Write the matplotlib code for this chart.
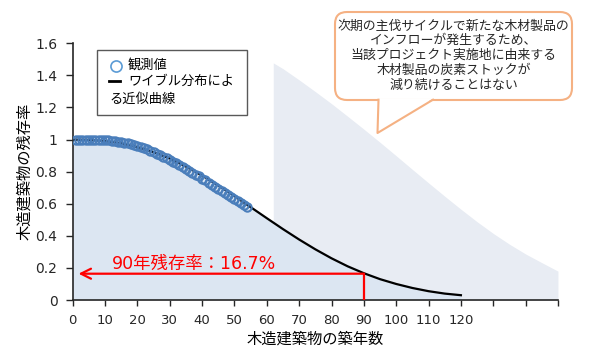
import numpy as np
import matplotlib.pyplot as plt
from matplotlib.patches import FancyBboxPatch, Polygon, Rectangle

plt.rcParams['font.family'] = ['DejaVu Sans', 'Noto Sans CJK JP']

# observed survival rate, building age 1-54 years
obs_year = list(range(1, 55))
obs_rate = [1.000, 1.000, 1.000, 1.000, 1.000, 0.999, 0.999, 0.998, 0.997, 0.996,
            0.995, 0.993, 0.991, 0.988, 0.985, 0.981, 0.977, 0.972, 0.967, 0.961,
            0.954, 0.947, 0.939, 0.931, 0.922, 0.913, 0.904, 0.894, 0.884, 0.874,
            0.863, 0.852, 0.841, 0.830, 0.818, 0.806, 0.794, 0.782, 0.770, 0.757,
            0.745, 0.732, 0.719, 0.706, 0.693, 0.680, 0.667, 0.654, 0.641, 0.628,
            0.615, 0.602, 0.590, 0.578]

# weibull approximation curve (read every 5 years)
fit_year = [0, 5, 10, 15, 20, 25, 30, 35, 40, 45, 50, 55, 60,
            65, 70, 75, 80, 85, 90, 95, 100, 105, 110, 115, 120]
fit_rate = [1.000, 0.998, 0.991, 0.977, 0.953, 0.922, 0.882, 0.832, 0.776, 0.714,
            0.648, 0.579, 0.510, 0.442, 0.377, 0.316, 0.260, 0.210, 0.167, 0.130,
            0.100, 0.075, 0.055, 0.040, 0.030]

# stock incl. next harvest cycle
next_year = [62, 65, 70, 75, 80, 85, 90, 95, 100, 105, 110,
             115, 120, 125, 130, 135, 140, 145, 150]
next_rate = [1.478, 1.442, 1.372, 1.299, 1.224, 1.145, 1.065, 0.983, 0.899, 0.814,
             0.730, 0.647, 0.566, 0.488, 0.415, 0.348, 0.287, 0.233, 0.180]

year90 = 90
rate90 = 0.164

xticks = list(range(0, 151, 10))
xticklabels = [str(v) if v <= 120 else '' for v in xticks]
yticks = [0, 0.2, 0.4, 0.6, 0.8, 1.0, 1.2, 1.4, 1.6]
yticklabels = ['0', '0.2', '0.4', '0.6', '0.8', '1', '1.2', '1.4', '1.6']

bubble_text = ('次期の主伐サイクルで新たな木材製品の\n'
               'インフローが発生するため、\n'
               '当該プロジェクト実施地に由来する\n'
               '木材製品の炭素ストックが\n'
               '減り続けることはない')

fig = plt.figure(figsize=(5.9, 3.53), dpi=100)
ax = fig.add_axes([0.1232, 0.1501, 0.8225, 0.7272])

ax.fill_between(next_year, 0, next_rate, color='#e8ecf3', lw=0, zorder=1)
ax.fill_between(fit_year, 0, fit_rate, color='#dce6f2', lw=0, zorder=2)
ax.plot(fit_year, fit_rate, color='black', lw=1.6, zorder=3)
ax.plot(obs_year, obs_rate, 'o', ms=6, mfc='none', mec='#4a7ebb', mew=1.5, zorder=4)

# 90 year marker
ax.plot([year90, year90], [0, rate90], color='red', lw=1.6, zorder=5)
ax.annotate('', xy=(1.8, rate90), xytext=(year90, rate90),
            arrowprops=dict(arrowstyle='->', color='red', lw=1.6,
                            mutation_scale=18, shrinkA=0, shrinkB=0), zorder=5)
ax.text(37.5, 0.225, '90年残存率：16.7%', color='red', fontsize=12.5,
        ha='center', va='center')

ax.set_xlim(0, 150)
ax.set_ylim(0, 1.6)
for s in ['top', 'right']:
    ax.spines[s].set_visible(False)
for s in ['left', 'bottom']:
    ax.spines[s].set_color('#262626')
    ax.spines[s].set_linewidth(1.2)
ax.set_xticks(xticks)
ax.set_xticklabels(xticklabels, fontsize=9.5)
ax.set_yticks(yticks)
ax.set_yticklabels(yticklabels, fontsize=10)
ax.tick_params(direction='out', length=4, width=1, colors='#262626')
ax.tick_params(axis='x', pad=6)
ax.tick_params(axis='y', length=5, pad=6)
ax.set_xlabel('木造建築物の築年数', fontsize=11, labelpad=3)
ax.set_ylabel('木造建築物の残存率', fontsize=11, labelpad=2)

# legend drawn by hand (second label wraps under the handle)
ax.add_patch(Rectangle((0.050, 0.721), 0.309, 0.253, transform=ax.transAxes,
                       fc='white', ec='#595959', lw=1, zorder=6))
ax.plot([0.0892], [0.913], 'o', transform=ax.transAxes, ms=8, mfc='none',
        mec='#5b9bd5', mew=1.2, zorder=7)
ax.plot([0.075, 0.0985], [0.853, 0.853], color='black', lw=2,
        transform=ax.transAxes, zorder=7)
ax.text(0.114, 0.913, '観測値', transform=ax.transAxes, va='center', fontsize=9.5, zorder=7)
ax.text(0.114, 0.853, 'ワイブル分布によ', transform=ax.transAxes, va='center',
        fontsize=9.5, zorder=7)
ax.text(0.075, 0.781, 'る近似曲線', transform=ax.transAxes, va='center',
        fontsize=9.5, zorder=7)

# speech bubble (inch coords)
tr = fig.dpi_scale_trans
H = 3.53
box = FancyBboxPatch((3.35, H - 1.00), 2.37, 0.88,
                     boxstyle='round,pad=0,rounding_size=0.12', transform=tr,
                     fc='white', ec='#f5b183', lw=1.5, zorder=10)
fig.add_artist(box)
tail = Polygon([(3.785, H - 0.985), (3.775, H - 1.33), (4.33, H - 0.985)],
               closed=True, transform=tr, fc='white', ec='none', zorder=11)
fig.add_artist(tail)
fig.add_artist(plt.Line2D([3.785, 3.775, 4.33], [H - 0.997, H - 1.33, H - 0.997],
                          transform=tr, color='#f5b183', lw=1.5, zorder=12))
fig.text(4.535, H - 0.555, bubble_text, transform=tr, ha='center', va='center',
         fontsize=9.3, linespacing=1.18, color='#262626', zorder=13)

fig.savefig('out.png', dpi=100)
